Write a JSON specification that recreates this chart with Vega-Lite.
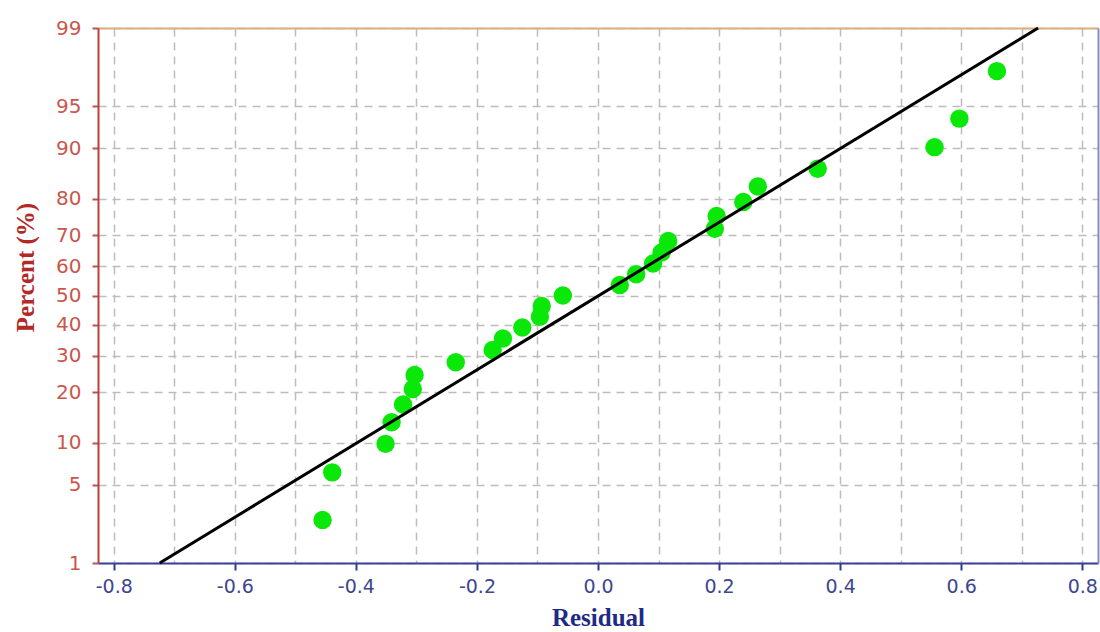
{
  "$schema": "https://vega.github.io/schema/vega-lite/v6.json",
  "autosize": "none",
  "width": 1000,
  "height": 535,
  "padding": {"left": 98, "top": 28, "right": 2, "bottom": 69},
  "background": "white",
  "config": {"view": {"stroke": null}},
  "datasets": {
    "residuals": [
      {"residual": -0.455, "percent": 2.55},
      {"residual": -0.439, "percent": 6.2},
      {"residual": -0.351, "percent": 9.85},
      {"residual": -0.341, "percent": 13.5},
      {"residual": -0.322, "percent": 17.15},
      {"residual": -0.306, "percent": 20.8},
      {"residual": -0.303, "percent": 24.45},
      {"residual": -0.235, "percent": 28.1},
      {"residual": -0.174, "percent": 31.75},
      {"residual": -0.157, "percent": 35.4},
      {"residual": -0.125, "percent": 39.05},
      {"residual": -0.096, "percent": 42.7},
      {"residual": -0.093, "percent": 46.35},
      {"residual": -0.058, "percent": 50.0},
      {"residual": 0.036, "percent": 53.65},
      {"residual": 0.063, "percent": 57.3},
      {"residual": 0.091, "percent": 60.95},
      {"residual": 0.105, "percent": 64.6},
      {"residual": 0.116, "percent": 68.25},
      {"residual": 0.193, "percent": 71.9},
      {"residual": 0.196, "percent": 75.55},
      {"residual": 0.24, "percent": 79.2},
      {"residual": 0.264, "percent": 82.85},
      {"residual": 0.363, "percent": 86.5},
      {"residual": 0.556, "percent": 90.15},
      {"residual": 0.597, "percent": 93.8},
      {"residual": 0.659, "percent": 97.45}
    ],
    "normalLine": [
      {"residual": -0.724, "percent": 1},
      {"residual": 0.727, "percent": 99}
    ]
  },
  "resolve": {"axis": {"x": "independent", "y": "independent"}},
  "layer": [
    {
      "data": {"name": "residuals"},
      "transform": [{"calculate": "quantileNormal(datum.percent / 100)", "as": "probit"}],
      "mark": {"type": "point", "filled": true, "opacity": 1, "size": 340, "color": "#0ae80a"},
      "encoding": {
        "x": {
          "field": "residual",
          "type": "quantitative",
          "scale": {"domain": [-0.826, 0.826], "nice": false, "zero": false},
          "axis": {
            "orient": "bottom",
            "values": [-0.8, -0.7, -0.6, -0.5, -0.4, -0.3, -0.2, -0.1, 0, 0.1, 0.2, 0.3, 0.4, 0.5, 0.6, 0.7, 0.8],
            "labelExpr": "abs(round(datum.value * 10)) % 2 == 1 ? '' : (datum.value < -0.001 ? '-' : '') + format(abs(datum.value), '.1f')",
            "tickOpacity": {"condition": {"test": "abs(round(datum.value * 10)) % 2 == 1", "value": 0}, "value": 1},
            "tickSize": 7,
            "tickWidth": 2,
            "tickColor": "#2e3a8c",
            "domainColor": "#3a3f99",
            "domainWidth": 2,
            "labelFont": "DejaVu Sans",
            "labelFontSize": 19,
            "labelColor": "#3d4690",
            "labelPadding": 7,
            "grid": true,
            "gridColor": "#bdbdbd",
            "gridDash": [8, 6],
            "gridWidth": 1.5,
            "title": "Residual",
            "titleFont": "Liberation Serif",
            "titleFontWeight": "bold",
            "titleFontSize": 25,
            "titleColor": "#1f2a85",
            "titleBaseline": "middle",
            "titleY": 54
          }
        },
        "y": {
          "field": "probit",
          "type": "quantitative",
          "scale": {"domain": [-2.326348, 2.326348], "nice": false, "zero": false},
          "axis": {
            "orient": "left",
            "values": [-2.326348, -1.644854, -1.281552, -0.841621, -0.524401, -0.253347, 0, 0.253347, 0.524401, 0.841621, 1.281552, 1.644854, 2.326348],
            "labelExpr": "format(round(cumulativeNormal(datum.value) * 100), 'd')",
            "tickSize": 6,
            "tickWidth": 2,
            "tickColor": "#c0504d",
            "domainColor": "#b8403c",
            "domainWidth": 2,
            "labelFont": "DejaVu Sans",
            "labelFontSize": 20,
            "labelColor": "#c9574c",
            "labelPadding": 11,
            "grid": true,
            "gridColor": "#bdbdbd",
            "gridDash": [8, 6],
            "gridWidth": 1.5,
            "title": "Percent (%)",
            "titleFont": "Liberation Serif",
            "titleFontWeight": "bold",
            "titleFontSize": 25,
            "titleColor": "#b22a28",
            "titleBaseline": "middle",
            "titleX": -73,
            "titleY": 239
          }
        }
      }
    },
    {
      "data": {"name": "normalLine"},
      "transform": [{"calculate": "quantileNormal(datum.percent / 100)", "as": "probit"}],
      "mark": {"type": "line", "color": "#000000", "strokeWidth": 3},
      "encoding": {
        "x": {
          "field": "residual",
          "type": "quantitative",
          "axis": {"orient": "top", "labels": false, "ticks": false, "grid": false, "title": null, "domainColor": "#dcae80", "domainWidth": 2}
        },
        "y": {
          "field": "probit",
          "type": "quantitative",
          "axis": {"orient": "right", "labels": false, "ticks": false, "grid": false, "title": null, "domainColor": "#8a8cc0", "domainWidth": 2}
        }
      }
    }
  ]
}
